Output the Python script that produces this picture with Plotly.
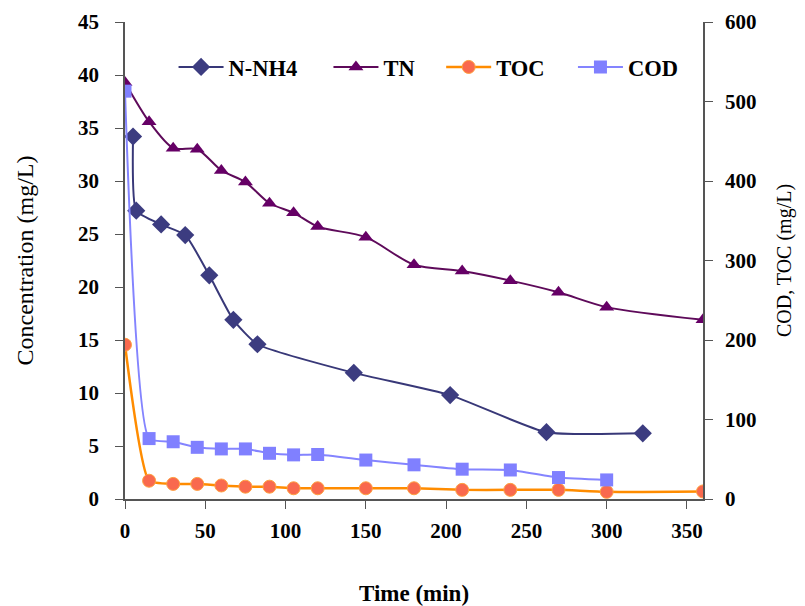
import plotly.graph_objects as go

# N-NH4 (left axis, mg/L)
nh4_time = [5, 7, 22.5, 37.5, 52.5, 67.5, 82.5, 142.5, 202.5, 262.5, 322.5]
nh4_vals = [34.2, 27.2, 25.9, 24.9, 21.1, 16.9, 14.6, 11.9, 9.8, 6.3, 6.2]

# TN (left axis, mg/L)
tn_time = [0, 15, 30, 45, 60, 75, 90, 105, 120, 150, 180, 210, 240, 270, 300, 360]
tn_vals = [39.3, 35.6, 33.1, 33.0, 31.0, 29.9, 27.9, 27.0, 25.7, 24.7, 22.1, 21.5, 20.6, 19.5, 18.1, 16.9]

# TOC (right axis, mg/L)
toc_time = [0, 15, 30, 45, 60, 75, 90, 105, 120, 150, 180, 210, 240, 270, 300, 360]
toc_vals = [194, 23, 19, 19, 17, 15.5, 15.5, 13.5, 13.5, 13.5, 13.5, 11.5, 11.5, 11.5, 9, 9.5]

# COD (right axis, mg/L)
cod_time = [0, 15, 30, 45, 60, 75, 90, 105, 120, 150, 180, 210, 240, 270, 300]
cod_vals = [513, 76, 72, 65, 63, 63, 57.5, 55.5, 56, 49, 43, 37.5, 36.5, 27, 24]

x_ticks = [0, 50, 100, 150, 200, 250, 300, 350]

SERIF = "Liberation Serif, Times New Roman, serif"

fig = go.Figure()
fig.add_trace(go.Scatter(
    x=nh4_time, y=nh4_vals, name="N-NH4", mode="lines+markers",
    line=dict(color="#383878", width=2, shape="spline", smoothing=0.5),
    marker=dict(symbol="diamond", size=14, color="#3C3C80"),
    yaxis="y", legend="legend"))
fig.add_trace(go.Scatter(
    x=tn_time, y=tn_vals, name="TN", mode="lines+markers",
    line=dict(color="#5E0A5A", width=2, shape="spline", smoothing=0.8),
    marker=dict(symbol="triangle-up", size=13, color="#660066"),
    yaxis="y", legend="legend2"))
fig.add_trace(go.Scatter(
    x=toc_time, y=toc_vals, name="TOC", mode="lines+markers",
    line=dict(color="#FF8C00", width=2.5, shape="spline", smoothing=0.5),
    marker=dict(symbol="circle", size=13, color="#F9694E",
                line=dict(color="#FFA040", width=1)),
    yaxis="y2", legend="legend3"))
fig.add_trace(go.Scatter(
    x=cod_time, y=cod_vals, name="COD", mode="lines+markers",
    line=dict(color="#8484FF", width=2, shape="spline", smoothing=0.5),
    marker=dict(symbol="square", size=13, color="#8080FF"),
    yaxis="y2", legend="legend4"))

def axis_common(standoff):
    return dict(
        showgrid=False, zeroline=False, showline=True, linecolor="#555555",
        linewidth=1.5, ticks="outside", ticklen=8, tickcolor="#555555",
        ticklabelstandoff=standoff, automargin=False,
        tickfont=dict(family=SERIF, size=21, color="black", weight="bold"),
    )

legend_font = dict(family=SERIF, size=22.5, color="black", weight="bold")

def leg(x):
    return dict(orientation="h", x=x, xanchor="left", y=0.905, yanchor="middle",
                bgcolor="rgba(0,0,0,0)", itemwidth=45, font=legend_font)

# the page body adds an 8px offset, so the figure is 8px smaller than the window
fig.update_layout(
    width=797, height=598,
    margin=dict(l=117, r=102, t=14, b=107),
    plot_bgcolor="white", paper_bgcolor="white",
    xaxis=dict(range=[0, 360], tickvals=x_ticks, **axis_common(4),
               title=dict(text="Time (min)", standoff=43,
                          font=dict(family=SERIF, size=23, color="black", weight="bold"))),
    yaxis=dict(range=[0, 45], dtick=5, **axis_common(12),
               title=dict(text="Concentration (mg/L)", standoff=38,
                          font=dict(family=SERIF, size=24, color="black"))),
    yaxis2=dict(range=[0, 600], dtick=100, overlaying="y", side="right",
                anchor="x", **axis_common(8),
                title=dict(text="COD, TOC (mg/L)", standoff=22,
                           font=dict(family=SERIF, size=20, color="black"))),
    legend=leg(0.084),
    legend2=leg(0.352),
    legend3=leg(0.547),
    legend4=leg(0.775),
    showlegend=True,
)

fig.write_html("out.html")
